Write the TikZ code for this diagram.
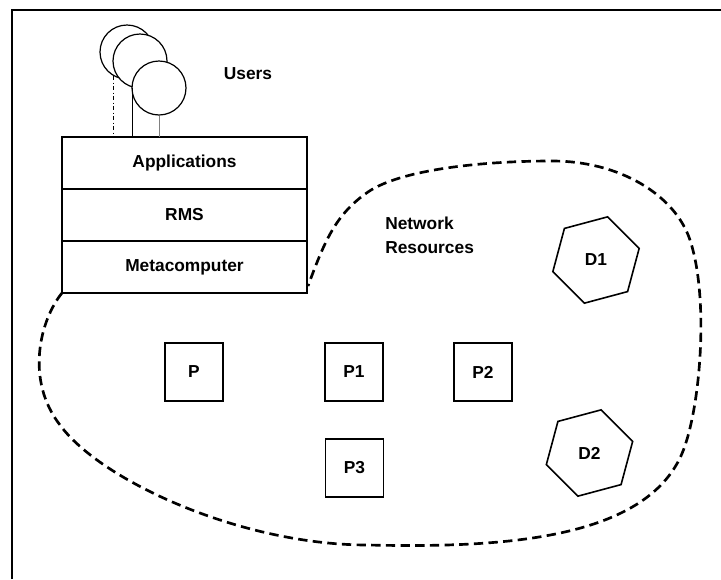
\documentclass[tikz,border=0pt]{standalone}
\usepackage{fontspec}
\setmainfont{Liberation Sans}
\usepackage{tikz}
\usetikzlibrary{shapes.geometric}
\usetikzlibrary{positioning}

\begin{document}
\begin{tikzpicture}[x=0.75pt,y=0.75pt,yscale=-1,xscale=1,
  txt/.style={inner sep=0.75pt, font=\fontsize{13}{18}\selectfont\bfseries},
  layer/.style={draw, line width=1.2pt, minimum width=183.75pt, minimum height=39pt, outer sep=0pt, inner sep=0pt, font=\fontsize{13}{18}\selectfont\bfseries},
  proc/.style={draw, line width=1.2pt, minimum size=43.5pt, inner sep=0pt, font=\fontsize{13}{18}\selectfont\bfseries},
  disk/.style={draw, regular polygon, regular polygon sides=6, shape border rotate=15, line width=1.2pt, minimum size=67pt, inner sep=0pt, font=\fontsize{13}{18}\selectfont\bfseries},
  user/.style={draw, circle, fill=white, line width=0.9pt, minimum size=40.5pt, inner sep=0pt}]
\useasboundingbox (0,0) rectangle (721,579);

%Frame
\draw [line width=1.5pt] (12,579) -- (12,10) -- (721,10) ;

%Shape: Circle (users, back to front)
\draw (127,52) node (u1) [user] {};
\draw (140,61) node (u2) [user] {};
\draw (159,88) node (u3) [user] {};

% Text Node
\draw (248,74) node (users) [txt] {Users};

%Shape: Rectangle stack
\draw (184.5,163) node (app) [layer] {Applications};
\node (rms) [layer, below=0pt of app] {RMS};
\node (meta) [layer, below=0pt of rms] {Metacomputer};

%Straight Lines (users to applications)
\draw [line width=0.5pt, dash dot] (u1.240) -- (u1.240 |- app.north) ;
\draw [line width=0.6pt] (u2.255) -- (u2.255 |- app.north) ;
\draw [line width=0.5pt, gray] (u3.south) -- (u3.south |- app.north) ;

%Curve Lines (network boundary)
\coordinate (netend) at (308,286);
\draw [line width=2pt, dash pattern=on 7pt off 4pt] (meta.south west) .. controls (40,320) and (25,380) .. (60,425) .. controls (100,480) and (240,545) .. (368,545) .. controls (500,548) and (640,540) .. (680,458) .. controls (700,417) and (710,300) .. (690,240) .. controls (675,195) and (620,161) .. (552,161) .. controls (480,161) and (400,170) .. (368,192) .. controls (336,214) and (325,240) .. (netend) ;

% Text Node
\draw (384,235) node (net) [txt, anchor=west, align=left] {Network\\Resources};

%Shape: Square (processors)
\draw (194,372) node (p) [proc] {P};
\draw (354,372) node (p1) [proc] {P1};
\draw (483,372) node (p2) [proc] {P2};
\draw (354.5,468) node (p3) [proc] {P3};

%Shape: Hexagon (data)
\draw (596,260) node (d1) [disk] {D1};
\draw (589.5,453) node (d2) [disk] {D2};

\end{tikzpicture}
\end{document}
